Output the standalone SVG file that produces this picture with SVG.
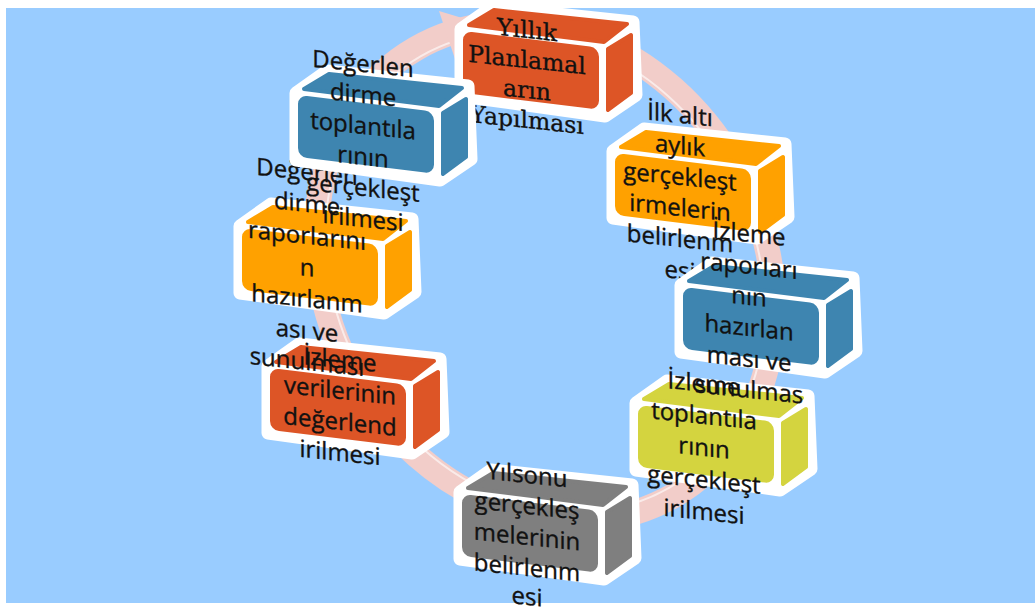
<svg xmlns="http://www.w3.org/2000/svg" width="1035" height="612" viewBox="0 0 1035 612">
<defs>
<style>
.t{font-family:"Open Sans","Noto Sans","DejaVu Sans",sans-serif;font-size:24px;fill:#111;stroke:#111;stroke-width:0.35;text-anchor:middle}
.s{font-family:"DejaVu Serif","Liberation Serif",serif;font-size:23.5px}
.face{fill:currentColor;stroke:currentColor;stroke-width:4;stroke-linejoin:round}
.hull{fill:#fff;stroke:#fff;stroke-width:13;stroke-linejoin:round}
.ring{fill:none;stroke:#F2CDC9;stroke-width:25}
.hl{fill:none;stroke:#fff;stroke-opacity:.6;stroke-width:2}
</style>
<g id="box">
<path class="hull" d="M-2,-2 L29,-24 L170,-9 L173,64 L142,85 L-2,65 Z"/>
<path class="face" d="M6,-6 L31,-21 L164,-7 L141,11 Z"/>
<path class="face" d="M145,18 L168,4 L168,62 L145,79 Z"/>
<rect x="0" y="0" width="136" height="62" rx="9" transform="skewY(7)" fill="currentColor"/>
</g>
</defs>
<rect x="6" y="8" width="1029" height="595" fill="#99CCFF"/>
<g id="connectors">
<ellipse class="ring" cx="545" cy="272" rx="258" ry="218" transform="rotate(60 545 272)"/>
<ellipse class="hl" cx="545" cy="272" rx="249" ry="209" transform="rotate(60 545 272)"/>
<polygon points="439,11 482,24 455,59" fill="#F2CDC9"/>
</g>
<g id="node1" style="color:#DD5526">
<use href="#box" x="463" y="31"/>
<g transform="translate(527 0) skewY(6)">
<text class="t s" y="38">Yıllık</text>
<text class="t s" y="68">Planlamal</text>
<text class="t s" y="98">arın</text>
<text class="t s" y="128">Yapılması</text>
</g>
</g>
<g id="node2" style="color:#FFA100">
<use href="#box" x="615" y="153"/>
<g transform="translate(680 0) skewY(6)">
<text class="t" y="123">İlk altı</text>
<text class="t" y="154">aylık</text>
<text class="t" y="185">gerçekleşt</text>
<text class="t" y="216">irmelerin</text>
<text class="t" y="247">belirlenm</text>
<text class="t" y="279">esi</text>
</g>
</g>
<g id="node4" style="color:#D4D43F">
<use href="#box" x="638" y="405"/>
<g transform="translate(704 0) skewY(6)">
<text class="t" y="392">İzleme</text>
<text class="t" y="424">toplantıla</text>
<text class="t" y="456">rının</text>
<text class="t" y="488">gerçekleşt</text>
<text class="t" y="520">irilmesi</text>
</g>
</g>
<g id="node3" style="color:#3E85B0">
<use href="#box" x="683" y="287"/>
<g transform="translate(749 0) skewY(6)">
<text class="t" y="242">İzleme</text>
<text class="t" y="274">raporları</text>
<text class="t" y="305">nın</text>
<text class="t" y="336">hazırlan</text>
<text class="t" y="367">ması ve</text>
<text class="t" y="398">sunulmas</text>
</g>
</g>
<g id="node5" style="color:#7F7F7F">
<use href="#box" x="462" y="494"/>
<g transform="translate(527 0) skewY(6)">
<text class="t" y="483">Yılsonu</text>
<text class="t" y="514">gerçekleş</text>
<text class="t" y="545">melerinin</text>
<text class="t" y="576">belirlenm</text>
<text class="t" y="605">esi</text>
</g>
</g>
<g id="node6" style="color:#DD5526">
<use href="#box" x="270" y="368"/>
<g transform="translate(340 0) skewY(6)">
<text class="t" y="368">İzleme</text>
<text class="t" y="399">verilerinin</text>
<text class="t" y="430">değerlend</text>
<text class="t" y="461">irilmesi</text>
</g>
</g>
<g id="node7" style="color:#FFA100">
<use href="#box" x="242" y="228"/>
<g transform="translate(307 0) skewY(6)">
<text class="t" y="180">Değerlen</text>
<text class="t" y="212">dirme</text>
<text class="t" y="244">raporlarını</text>
<text class="t" y="276">n</text>
<text class="t" y="307">hazırlanm</text>
<text class="t" y="339">ası ve</text>
<text class="t" y="370">sunulması</text>
</g>
</g>
<g id="node8" style="color:#3E85B0">
<use href="#box" x="298" y="95"/>
<g transform="translate(363 0) skewY(6)">
<text class="t" y="72">Değerlen</text>
<text class="t" y="103">dirme</text>
<text class="t" y="134">toplantıla</text>
<text class="t" y="165">rının</text>
<text class="t" y="196">gerçekleşt</text>
<text class="t" y="227">irilmesi</text>
</g>
</g>
</svg>
